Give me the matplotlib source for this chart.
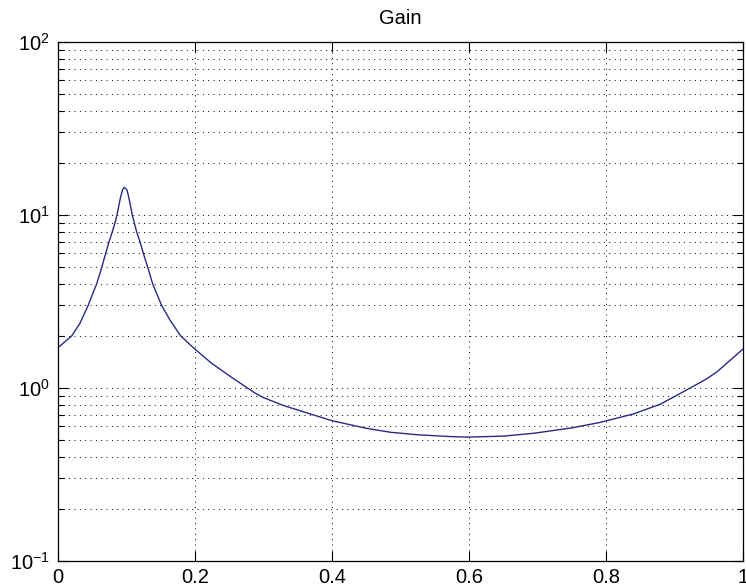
import matplotlib
matplotlib.use("Agg")
import matplotlib.pyplot as plt
from matplotlib.ticker import LogLocator, NullFormatter

plt.rcParams['font.family'] = ['Liberation Sans', 'DejaVu Sans']
plt.rcParams['mathtext.fontset'] = 'custom'
plt.rcParams['mathtext.rm'] = 'Liberation Sans'

# Data
freq = [0.0, 0.020, 0.032, 0.044, 0.050, 0.0565, 0.064, 0.0696, 0.0745, 0.0793,
        0.0832, 0.0861, 0.091, 0.0944, 0.0968, 0.1007, 0.1036, 0.1085, 0.1114,
        0.1148, 0.1197, 0.1246, 0.1309, 0.1382, 0.1513, 0.1635, 0.1791, 0.1985,
        0.2243, 0.2535, 0.2876, 0.30, 0.33, 0.36, 0.40, 0.45, 0.485, 0.524,
        0.572, 0.597, 0.65, 0.694, 0.75, 0.791, 0.84, 0.879, 0.923, 0.947,
        0.962, 1.0]
gain = [1.71, 2.0, 2.365, 3.0, 3.45, 4.0, 5.0, 6.0, 7.0, 8.0,
        9.0, 10.0, 12.5, 14.07, 14.45, 13.95, 12.5, 10.0, 9.0,
        8.0, 7.0, 6.0, 5.0, 4.0, 3.0, 2.47, 2.0, 1.696,
        1.389, 1.152, 0.935, 0.88, 0.79, 0.725, 0.647, 0.585, 0.555, 0.537,
        0.524, 0.52, 0.527, 0.547, 0.588, 0.632, 0.708, 0.805, 1.0, 1.13,
        1.24, 1.68]
x_ticks = [0, 0.2, 0.4, 0.6, 0.8, 1]
x_labels = ['0', '0.2', '0.4', '0.6', '0.8', '1']
title = 'Gain'

fig = plt.figure(figsize=(7.46, 5.87), dpi=100)
ax = fig.add_axes([58/746, 26/587, (743-58)/746, (561-42)/587])

ax.semilogy(freq, gain, color='#2a2a82', lw=1.0)
ax.set_xlim(0, 1)
ax.set_ylim(0.1, 100)
ax.set_xticks(x_ticks)
ax.set_xticklabels(x_labels)
ax.yaxis.set_major_locator(LogLocator(base=10, numticks=10))
ax.yaxis.set_minor_locator(LogLocator(base=10, subs=range(2, 10), numticks=20))
ax.yaxis.set_minor_formatter(NullFormatter())

grid_style = dict(color='black', lw=0.7, linestyle=(0, (1, 4.5)))
ax.grid(True, which='major', axis='both', **grid_style)
ax.grid(True, which='minor', axis='y', **grid_style)

ax.tick_params(which='both', direction='in', top=True, right=True,
               labelsize=14.5, colors='black')
ax.tick_params(which='major', length=7, width=0.8)
ax.tick_params(which='minor', length=4, width=0.8)
ax.tick_params(axis='x', pad=5)
ax.tick_params(axis='y', pad=6)
for s in ax.spines.values():
    s.set_linewidth(0.9)

ax.set_title(title, fontsize=14.5, pad=13)

fig.savefig('out.png', dpi=100)
